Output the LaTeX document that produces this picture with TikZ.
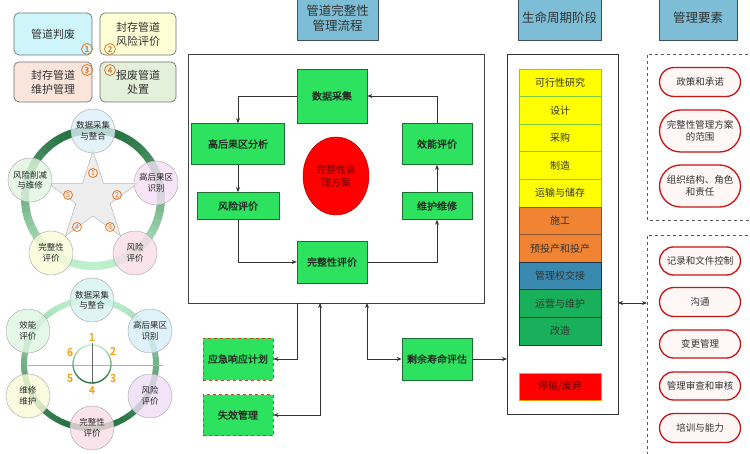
\documentclass[tikz,border=0pt]{standalone}
\usepackage{fontspec}
\setmainfont{Noto Sans CJK SC}[AutoFakeBold=1.3]
\usetikzlibrary{arrows.meta,shapes.geometric,shapes.misc,calc}
\definecolor{cTa}{RGB}{206,246,250}
\definecolor{cTb}{RGB}{255,255,214}
\definecolor{cTc}{RGB}{251,229,218}
\definecolor{cTd}{RGB}{227,240,218}
\definecolor{cOr}{RGB}{225,120,40}
\definecolor{cOr2}{RGB}{240,160,20}
\definecolor{ringdark}{RGB}{36,112,64}
\definecolor{ringlight}{RGB}{190,240,205}
\definecolor{cTtl}{RGB}{125,190,214}
\definecolor{cTtlB}{RGB}{60,80,96}
\definecolor{cFg}{RGB}{44,226,94}
\definecolor{cFgB}{RGB}{30,110,50}
\definecolor{cDash}{RGB}{180,80,30}
\definecolor{cYel}{RGB}{255,255,0}
\definecolor{cYelB}{RGB}{130,205,60}
\definecolor{cOrg}{RGB}{240,132,50}
\definecolor{cOrgB}{RGB}{140,85,50}
\definecolor{cBlu}{RGB}{58,138,176}
\definecolor{cBluB}{RGB}{30,50,70}
\definecolor{cGrn}{RGB}{24,176,90}
\definecolor{cGrnB}{RGB}{15,70,40}
\definecolor{cRed}{RGB}{255,0,0}
\definecolor{cRedB}{RGB}{240,160,0}
\definecolor{cPill}{RGB}{200,20,20}
\definecolor{cPillF}{RGB}{255,246,246}
\definecolor{p1}{RGB}{221,240,248}
\definecolor{p2}{RGB}{245,223,245}
\definecolor{p3}{RGB}{250,221,232}
\definecolor{p4}{RGB}{250,250,216}
\definecolor{p5}{RGB}{224,245,224}
\definecolor{h1}{RGB}{216,243,240}
\definecolor{h2}{RGB}{216,238,248}
\definecolor{h3}{RGB}{240,221,245}
\definecolor{h4}{RGB}{250,221,230}
\definecolor{h5}{RGB}{250,250,216}
\definecolor{h6}{RGB}{223,245,226}
\begin{document}
\begin{tikzpicture}[x=1pt,y=-1pt,
  tl/.style={draw=black!55, rounded corners=5pt, line width=0.7pt, minimum width=78pt, minimum height=42pt, align=center, inner sep=1pt, font=\fontsize{11}{14}\selectfont, text=black!80},
  cnum/.style={circle, draw=cOr, text=cOr, line width=0.8pt, inner sep=0pt, minimum size=11pt, font=\fontsize{8}{8}\selectfont\bfseries},
  pc/.style={circle, draw=black!30, line width=0.5pt, minimum size=44pt, inner sep=0pt, align=center, fill opacity=0.8, text opacity=1, font=\fontsize{8.5}{10.5}\selectfont, text=black!85},
  hnum/.style={text=cOr2, font=\fontsize{11}{11}\selectfont\bfseries, inner sep=0pt},
  ttl/.style={draw=cTtlB, fill=cTtl, line width=0.8pt, anchor=south, minimum height=45pt, align=center, font=\fontsize{12.5}{15}\selectfont, text=black!80, inner sep=1pt},
  fb/.style={draw=cFgB, fill=cFg, line width=0.7pt, align=center, font=\fontsize{10}{12}\selectfont\bfseries, text=black!85, inner sep=1pt},
  fbd/.style={fb, draw=cDash, dashed, line width=0.9pt},
  arr/.style={-{Stealth[length=5pt,width=4pt]}, line width=0.7pt, draw=black!80},
  darr/.style={{Stealth[length=5pt,width=4pt]}-{Stealth[length=5pt,width=4pt]}, line width=0.7pt, draw=black!80},
  lc/.style={minimum width=82pt, minimum height=27.6pt, inner sep=0pt, font=\fontsize{10}{12}\selectfont, text=black!80, line width=0.8pt},
  pill/.style={rounded rectangle, draw=cPill, line width=1.3pt, fill=cPillF, minimum width=83pt, align=center, inner sep=1pt, font=\fontsize{9.5}{12}\selectfont, text=black!80},
  dbox/.style={draw=black!65, dashed, line width=0.8pt}
]
\useasboundingbox (0,0) rectangle (750,454);
\fill[white] (0,0) rectangle (750,454);

% ---------- top-left boxes ----------
\node[tl, fill=cTa] (tla) at (53,34) {管道判废};
\node[tl, fill=cTb, minimum width=76pt] (tlb) at (138,34) {封存管道\\风险评价};
\node[tl, fill=cTc, minimum height=40pt] (tlc) at (53,82) {封存管道\\维护管理};
\node[tl, fill=cTd, minimum width=76pt, minimum height=40pt] (tld) at (138,82) {报废管道\\处置};
\node[cnum] (n1) at (87,49) {1};
\node[cnum] (n2) at (110,49) {2};
\node[cnum] (n3) at (87,70) {3};
\node[cnum] (n4) at (110,70) {4};

% ---------- pentagon diagram ----------
\foreach \a in {0,6,...,354}{
  \pgfmathsetmacro\p{50-50*sin(\a+3)}
  \draw[line width=8pt, draw=ringdark!\p!ringlight] plot[domain=\a:\a+6.6, samples=4, variable=\t] ({93+68*cos(\t)},{198+68*sin(\t)});
}
\fill[gray!14, draw=gray!55, line width=0.5pt] plot[samples at={0,...,9}, variable=\k] ({93+(47-29*mod(\k,2))*cos(-90+36*\k)},{198+(47-29*mod(\k,2))*sin(-90+36*\k)}) -- cycle;
\node[cnum, minimum size=9pt, font=\fontsize{7}{7}\selectfont] (s1) at (93,173) {1};
\node[cnum, minimum size=9pt, font=\fontsize{7}{7}\selectfont] (s2) at (117,195) {2};
\node[cnum, minimum size=9pt, font=\fontsize{7}{7}\selectfont] (s3) at (110,227) {3};
\node[cnum, minimum size=9pt, font=\fontsize{7}{7}\selectfont] (s4) at (77,227) {4};
\node[cnum, minimum size=9pt, font=\fontsize{7}{7}\selectfont] (s5) at (68,195) {5};
\node[pc, fill=p1] (pa) at (93,131) {数据采集\\与整合};
\node[pc, fill=p2] (pb) at (156,183) {高后果区\\识别};
\node[pc, fill=p3] (pcc) at (135,253) {风险\\评价};
\node[pc, fill=p4] (pd) at (51,253) {完整性\\评价};
\node[pc, fill=p5] (pe) at (30,180) {风险削减\\与维修};

% ---------- hexagon diagram ----------
\foreach \a in {0,6,...,354}{
  \pgfmathsetmacro\p{50+50*sin(\a+3)}
  \draw[line width=6pt, draw=ringdark!\p!ringlight] plot[domain=\a:\a+6.6, samples=4, variable=\t] ({90+66*cos(\t)},{364+64*sin(\t)});
}
\draw[gray!60, line width=0.7pt] (25,365) -- (163,365);
\foreach \a in {0,10,...,350}{
  \pgfmathsetmacro\p{50+50*sin(\a+5)}
  \draw[line width=1.4pt, draw=ringdark!\p!ringlight] plot[domain=\a:\a+10.5, samples=3, variable=\t] ({92+19*cos(\t)},{364+19*sin(\t)});
}
\draw[black!60, line width=0.6pt] (92,343) -- (92,384);
\node[hnum] (k1) at (92,337) {1};
\node[hnum] (k2) at (113,351) {2};
\node[hnum] (k3) at (113,378) {3};
\node[hnum] (k4) at (92,390) {4};
\node[hnum] (k5) at (70,378) {5};
\node[hnum] (k6) at (70,352) {6};
\node[pc, fill=h1] (ha) at (92,300) {数据采集\\与整合};
\node[pc, fill=h2] (hb) at (150,331) {高后果区\\识别};
\node[pc, fill=h3] (hc) at (150,396) {风险\\评价};
\node[pc, fill=h4] (hd) at (92,428) {完整性\\评价};
\node[pc, fill=h5] (he) at (28,396) {维修\\维护};
\node[pc, fill=h6] (hf) at (28,331) {效能\\评价};

% ---------- titles ----------
\node[ttl, minimum width=81pt] (t1) at (337.5,41) {管道完整性\\管理流程};
\node[ttl, minimum width=83pt] (t2) at (559.5,41) {生命周期阶段};
\node[ttl, minimum width=78pt] (t3) at (698,41) {管理要素};

% ---------- flow frame ----------
\node[draw=black!75, line width=1pt, minimum width=296pt, minimum height=249pt, anchor=north west, inner sep=0pt] (frame) at (188,54) {};
\node[fb, minimum width=70pt, minimum height=54pt] (sj) at (332,96) {数据采集};
\node[fb, minimum width=93pt, minimum height=41pt] (gh) at (238,144) {高后果区分析};
\node[fb, minimum width=70pt, minimum height=41pt] (xn) at (437,144) {效能评价};
\node[fb, minimum width=82pt, minimum height=27pt] (fx) at (238,206) {风险评价};
\node[fb, minimum width=70pt, minimum height=27pt] (wh) at (437,206) {维护维修};
\node[fb, minimum width=70pt, minimum height=42pt] (wz) at (332,262) {完整性评价};
\node[ellipse, fill=cRed, draw=cRed!70!black, line width=0.5pt, minimum width=66pt, minimum height=78pt, inner sep=0pt, align=center, text=red!45!black, font=\fontsize{10}{13}\selectfont] (fa) at (336,176) {完整性管\\理方案};
\draw[arr] (sj.west) -| (gh.north);
\draw[arr] (gh.south) -- (fx.north);
\draw[arr] (fx.south) |- (wz.west);
\draw[arr] (wz.east) -| (wh.south);
\draw[arr] (wh.north) -- (xn.south);
\draw[arr] (xn.north) |- (sj.east);

% ---------- bottom boxes ----------
\node[fbd, minimum width=70pt, minimum height=42pt] (yj) at (238,359) {应急响应计划};
\node[fbd, minimum width=70pt, minimum height=41pt] (sx) at (238,415) {失效管理};
\node[fb, minimum width=70pt, minimum height=42pt] (sy) at (437,359) {剩余寿命评估};
\coordinate (fb1) at (297,303);
\coordinate (fb2) at (320,303);
\coordinate (fb3) at (367,303);
\draw[arr] (fb1) |- (yj.east);
\draw[darr] (sx.east) -| (fb2);
\draw[darr] (fb3) |- (sy.west);

% ---------- life cycle ----------
\node[draw=black!80, line width=1pt, minimum width=111pt, minimum height=360pt, anchor=north west, inner sep=0pt] (lframe) at (507,54) {};
\node[lc, fill=cYel, draw=cYelB] (l1) at (560,82.8) {可行性研究};
\node[lc, fill=cYel, draw=cYelB] (l2) at (560,110.4) {设计};
\node[lc, fill=cYel, draw=cYelB] (l3) at (560,138) {采购};
\node[lc, fill=cYel, draw=cYelB] (l4) at (560,165.6) {制造};
\node[lc, fill=cYel, draw=cYelB] (l5) at (560,193.2) {运输与储存};
\node[lc, fill=cOrg, draw=cOrgB] (l6) at (560,220.8) {施工};
\node[lc, fill=cOrg, draw=cOrgB] (l7) at (560,248.4) {预投产和投产};
\node[lc, fill=cBlu, draw=cBluB] (l8) at (560,276) {管理权交接};
\node[lc, fill=cGrn, draw=cGrnB] (l9) at (560,303.6) {运营与维护};
\node[lc, fill=cGrn, draw=cGrnB] (l10) at (560,331.2) {改造};
\node[lc, fill=cRed, draw=cRedB, minimum height=27pt, text=red!40!black] (l11) at (560,386.5) {停输/废弃};
\coordinate (lf1) at (507,359);
\coordinate (lf2) at (618,303);
\draw[arr] (sy.east) -- (lf1);

% ---------- management elements ----------
\draw[dbox] (760,54) -- (647,54) -- (647,220) -- (760,220);
\draw[dbox] (760,235) -- (647,235) -- (647,460);
\coordinate (md) at (647,303);
\draw[darr] (lf2) -- (md);
\node[pill, minimum height=29pt] (m1) at (700,82) {政策和承诺};
\node[pill, minimum height=42pt] (m2) at (700,131) {完整性管理方案\\的范围};
\node[pill, minimum height=42pt] (m3) at (700,186) {组织结构、角色\\和责任};
\node[pill, minimum height=28pt] (m4) at (700,261) {记录和文件控制};
\node[pill, minimum height=29pt] (m5) at (700,302) {沟通};
\node[pill, minimum height=28pt] (m6) at (700,344) {变更管理};
\node[pill, minimum height=28pt] (m7) at (700,386) {管理审查和审核};
\node[pill, minimum height=29pt] (m8) at (700,428) {培训与能力};
\end{tikzpicture}
\end{document}
